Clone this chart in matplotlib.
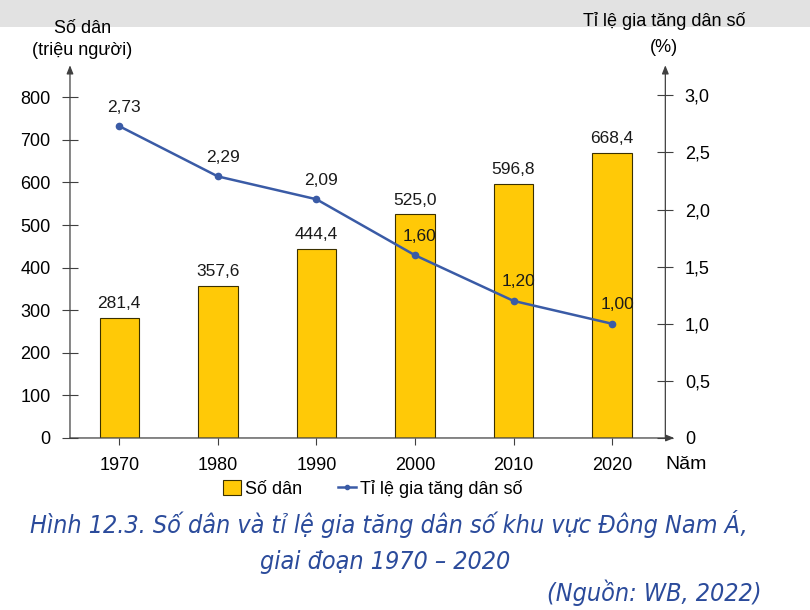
import matplotlib.pyplot as plt
from matplotlib.patches import Rectangle
from matplotlib.lines import Line2D

plt.rcParams['font.family'] = ['Liberation Sans', 'DejaVu Sans']

years = ['1970', '1980', '1990', '2000', '2010', '2020']
population = [281.4, 357.6, 444.4, 525.0, 596.8, 668.4]
growth = [2.73, 2.29, 2.09, 1.60, 1.20, 1.00]
pop_labels = ['281,4', '357,6', '444,4', '525,0', '596,8', '668,4']
growth_labels = ['2,73', '2,29', '2,09', '1,60', '1,20', '1,00']
left_ticks = [0, 100, 200, 300, 400, 500, 600, 700, 800]
right_ticks = [0, 0.5, 1.0, 1.5, 2.0, 2.5, 3.0]
right_labels = ['0', '0,5', '1,0', '1,5', '2,0', '2,5', '3,0']

bar_color = '#FFC907'
line_color = '#3A5BA6'
axis_color = '#404040'
caption_color = '#2B4B9B'

fig = plt.figure(figsize=(8.1, 6.1), dpi=100)
fig.patches.append(Rectangle((0.0, 0.955), 1.0, 0.045, transform=fig.transFigure,
                             facecolor='#e2e2e2', edgecolor='none', zorder=0))

ax = fig.add_axes([0.0864, 0.282, 0.735, 0.611])
x = list(range(len(years)))
ax.bar(x, population, width=0.4, color=bar_color, edgecolor='#3a3000', linewidth=0.8, zorder=2)
ax.set_xlim(-0.5, 5.54)
ax.set_ylim(0, 875)
for i, v in enumerate(population):
    ax.text(i, v + 16, pop_labels[i], ha='center', va='bottom', fontsize=12.5, color='#1a1a1a')

ax.set_yticks(left_ticks)
ax.set_yticklabels([str(t) for t in left_ticks], fontsize=13)
ax.tick_params(axis='y', direction='inout', length=12, width=0.8, color=axis_color, pad=8)
ax.set_xticks(x)
ax.set_xticklabels(years, fontsize=13)
ax.tick_params(axis='x', direction='out', length=5, width=0.8, color=axis_color, pad=9)
for s in ax.spines.values():
    s.set_visible(False)

ax2 = ax.twinx()
ax2.set_ylim(0, 3.263)
ax2.plot(x, growth, color=line_color, linewidth=1.8, marker='o', markersize=4.5, zorder=3)
for i, v in enumerate(growth):
    ax2.text(i + 0.05, v + 0.1, growth_labels[i], ha='center', va='bottom', fontsize=12.5, color='#1a1a1a')
ax2.set_yticks(right_ticks)
ax2.set_yticklabels(right_labels, fontsize=13)
ax2.tick_params(axis='y', direction='inout', length=12, width=0.8, color=axis_color, pad=8)
for s in ax2.spines.values():
    s.set_visible(False)

# axis lines with arrows
arrow = dict(arrowstyle='-|>,head_length=0.5,head_width=0.2', color=axis_color, lw=0.9,
             shrinkA=0, shrinkB=0)
ax.annotate('', xy=(0, 1.0), xytext=(0, 0), xycoords='axes fraction', arrowprops=arrow)
ax.annotate('', xy=(1, 1.0), xytext=(1, 0), xycoords='axes fraction', arrowprops=arrow)
ax.annotate('', xy=(1.015, 0), xytext=(0, 0), xycoords='axes fraction', arrowprops=arrow)

fig.text(0.102, 0.953, 'Số dân', ha='center', va='center', fontsize=13)
fig.text(0.102, 0.917, '(triệu người)', ha='center', va='center', fontsize=13)
fig.text(0.82, 0.966, 'Tỉ lệ gia tăng dân số', ha='center', va='center', fontsize=13)
fig.text(0.82, 0.922, '(%)', ha='center', va='center', fontsize=13)
fig.text(0.847, 0.238, 'Năm', ha='center', va='center', fontsize=14)

handles = [Rectangle((0, 0), 1, 1, facecolor=bar_color, edgecolor='#3a3000', linewidth=0.8),
           Line2D([], [], color=line_color, linewidth=1.8, marker='o', markersize=3)]
fig.legend(handles, ['Số dân', 'Tỉ lệ gia tăng dân số'], loc='center', bbox_to_anchor=(0.46, 0.198),
           ncol=2, frameon=False, fontsize=13, handlelength=1.0, handletextpad=0.2,
           columnspacing=2.0, handleheight=0.9)

cap = dict(ha='center', va='center', fontsize=18, style='italic', color=caption_color,
           family=['DejaVu Sans'], stretch='condensed')
fig.text(0.48, 0.141, 'Hình 12.3. Số dân và tỉ lệ gia tăng dân số khu vực Đông Nam Á,', **cap)
fig.text(0.475, 0.079, 'giai đoạn 1970 – 2020', **cap)
cap['ha'] = 'right'
fig.text(0.94, 0.029, '(Nguồn: WB, 2022)', **cap)

fig.savefig('out.png', dpi=100, facecolor='white')
